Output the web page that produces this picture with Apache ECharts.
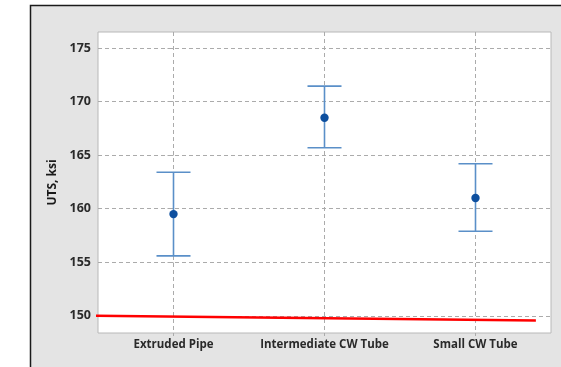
<!DOCTYPE html>
<html>
<head>
<meta charset="utf-8">
<script src="https://cdn.jsdelivr.net/npm/echarts@6/dist/echarts.min.js"></script>
<style>html,body{margin:0;padding:0;background:#fff;}#c{width:561px;height:367px;}</style>
</head>
<body>
<div id="c"></div>
<script>
const categories = ['Extruded Pipe', 'Intermediate CW Tube', 'Small CW Tube'];
const means = [159.5, 168.5, 161.0];
const upper = [163.4, 171.45, 164.2];
const lower = [155.6, 165.7, 157.9];
const yTicks = [150, 155, 160, 165, 170, 175];
const refLineX = [-0.58, 2.40];
const refLineY = [150.03, 149.56];

const chart = echarts.init(document.getElementById('c'), null, {renderer: 'canvas'});
const font = '"Open Sans", "Noto Sans", sans-serif';
const barData = categories.map((c, i) => [i, means[i], lower[i], upper[i]]);

chart.setOption({
  animation: false,
  backgroundColor: '#ffffff',
  graphic: [{
    type: 'rect', z: -100, silent: true,
    shape: {x: 30.5, y: 5.5, width: 540, height: 370},
    style: {fill: '#e4e4e4', stroke: '#1a1a1a', lineWidth: 1.5}
  }],
  grid: {left: 98, top: 32, right: 10, bottom: 34, show: true, backgroundColor: '#ffffff', borderColor: '#b8b8b8', borderWidth: 1, containLabel: false},
  xAxis: {
    type: 'value', min: -0.5, max: 2.5,
    axisLine: {show: false},
    axisTick: {show: true, length: 5, customValues: [0, 1, 2], lineStyle: {color: '#ababab', type: [3, 2]}},
    splitLine: {show: true, lineStyle: {color: '#ababab', type: [4, 3], width: 1}},
    axisLabel: {customValues: [0, 1, 2], formatter: v => categories[Math.round(v)], color: '#2a2a2a', fontFamily: font, fontWeight: 'bold', fontSize: 11.5, margin: 6}
  },
  yAxis: {
    type: 'value', min: 148.4, max: 176.5,
    name: 'UTS, ksi', nameLocation: 'middle', nameGap: 36, nameRotate: 90,
    nameTextStyle: {color: '#1a1a1a', fontFamily: font, fontWeight: 'bold', fontSize: 12},
    axisLine: {show: false},
    axisTick: {show: true, length: 6, customValues: yTicks, lineStyle: {color: '#ababab', type: [3, 2]}},
    splitLine: {show: true, lineStyle: {color: '#ababab', type: [4, 3], width: 1}},
    axisLabel: {customValues: yTicks, color: '#2a2a2a', fontFamily: font, fontWeight: 'bold', fontSize: 12.5, margin: 7}
  },
  series: [{
    type: 'custom',
    data: barData,
    renderItem: function (params, api) {
      const x = api.value(0);
      const lo = api.coord([x, api.value(2)]);
      const hi = api.coord([x, api.value(3)]);
      const m = api.coord([x, api.value(1)]);
      const hw = 17;
      const st = {stroke: '#5a8fc8', lineWidth: 1.6, fill: null};
      return {type: 'group', children: [
        {type: 'line', shape: {x1: hi[0], y1: hi[1], x2: lo[0], y2: lo[1]}, style: st},
        {type: 'line', shape: {x1: hi[0] - hw, y1: hi[1], x2: hi[0] + hw, y2: hi[1]}, style: st},
        {type: 'line', shape: {x1: lo[0] - hw, y1: lo[1], x2: lo[0] + hw, y2: lo[1]}, style: st},
        {type: 'circle', shape: {cx: m[0], cy: m[1], r: 4.2}, style: {fill: '#0d4f9f'}}
      ]};
    }
  }, {
    type: 'line', clip: false, symbol: 'none', z: 10,
    data: refLineX.map((x, i) => [x, refLineY[i]]),
    lineStyle: {color: '#ff0000', width: 2.5}
  }]
});
</script>
</body>
</html>
